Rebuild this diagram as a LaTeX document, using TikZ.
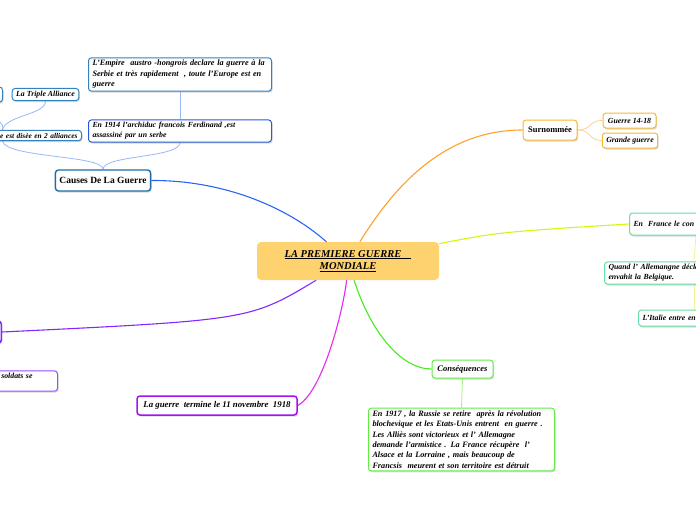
\documentclass[tikz,border=0pt]{standalone}
\usepackage{fontspec}
\setmainfont{Liberation Serif}
\usepackage{xcolor}
\usetikzlibrary{shadows,backgrounds}
\definecolor{titlefill}{RGB}{255,210,112}
\definecolor{causeblue}{RGB}{30,110,165}
\definecolor{kidblue}{RGB}{50,130,190}
\definecolor{deepblue}{RGB}{40,90,220}
\definecolor{paleblue}{RGB}{150,185,245}
\definecolor{branchblue}{RGB}{40,100,250}
\definecolor{orangeline}{RGB}{255,160,40}
\definecolor{orangebox}{RGB}{245,185,50}
\definecolor{paleorange}{RGB}{252,210,140}
\definecolor{limeline}{RGB}{215,245,20}
\definecolor{mintbox}{RGB}{100,225,165}
\definecolor{paleyellow}{RGB}{245,240,150}
\definecolor{greenline}{RGB}{70,235,30}
\definecolor{greenbox}{RGB}{100,235,70}
\definecolor{palegreen}{RGB}{165,240,130}
\definecolor{purpleline}{RGB}{130,40,255}
\definecolor{purplebox}{RGB}{150,80,255}
\definecolor{magentaline}{RGB}{230,40,245}
\definecolor{violetbox}{RGB}{165,20,240}

\begin{document}
\begin{tikzpicture}[x=1pt,y=-1pt,
box/.style={draw,rounded corners=3pt,line width=1pt,fill=white,inner xsep=4pt,inner ysep=2.5pt,
  align=left,font=\fontsize{7.8}{10}\selectfont\bfseries\itshape,
  drop shadow={shadow xshift=1pt,shadow yshift=-1.5pt,opacity=.3}},
branch/.style={line width=1.1pt},
twig/.style={line width=.8pt}]
\useasboundingbox (0,0) rectangle (696,520);

% centre
\node[fill=titlefill,rounded corners=4pt,minimum width=182pt,minimum height=38pt,align=center,
  font=\fontsize{10.5}{12.5}\selectfont\bfseries\itshape] (guerre) at (348,261)
  {\underline{LA PREMIERE GUERRE\hspace{10pt}}\\\underline{MONDIALE}};

% causes
\node[box,draw=causeblue,line width=1.4pt,minimum width=94pt,minimum height=21pt,align=center,
  font=\fontsize{9.5}{11}\selectfont\bfseries] (causes) at (103,180.5) {Causes De La Guerre};
\node[box,draw=deepblue,text width=175pt] (assassin) at (180,131)
  {En 1914 l'archiduc francois Ferdinand ,est\\assassiné par un serbe};
\node[box,draw=kidblue,text width=175pt,font=\fontsize{8.2}{10.5}\selectfont\bfseries\itshape] (empire) at (180,74.5)
  {L'Empire\ \ austro -hongrois declare la guerre à la\\Serbie et très rapidement\ \ , toute l'Europe est en\\guerre};
\node[box,draw=kidblue,text width=150pt,align=right,anchor=east,
  font=\fontsize{7.4}{10}\selectfont\bfseries\itshape] (alliances) at (82,135.5)
  {e est disèe en 2 alliances};
\node[box,draw=kidblue] (triple) at (45.5,94.5) {La Triple Alliance};
\node[box,draw=kidblue,minimum width=60pt,minimum height=15pt,anchor=east] (entente) at (3,94.5) {};

% surnommee
\node[box,draw=orangebox,minimum width=54pt,minimum height=20pt,align=center,
  font=\fontsize{8.5}{10}\selectfont\bfseries] (surnom) at (550,130) {Surnommée};
\node[box,draw=orangebox,minimum width=53pt,minimum height=15pt,align=center] (quatorze) at (629.5,120.5) {Guerre 14-18};
\node[box,draw=orangebox,minimum width=54pt,minimum height=15pt,align=center] (grande) at (630,140.5) {Grande guerre};

% en france
\node[box,draw=mintbox,text width=125pt,minimum height=22pt,anchor=west] (france) at (629,224) {En\ \ France le con};
\node[box,draw=mintbox,text width=171pt,anchor=west] (belgique) at (604,273)
  {Quand l' Allemangne déclar\\envahit la Belgique.};
\node[box,draw=mintbox,text width=103pt,minimum height=16pt,anchor=west] (italie) at (638,318) {L'Italie entre en};

% consequences
\node[box,draw=greenbox,minimum width=61pt,minimum height=18pt,align=center,
  font=\fontsize{8.5}{10}\selectfont\bfseries\itshape] (conseq) at (462.5,369) {Conséquences};
\node[box,draw=greenbox,text width=178pt,font=\fontsize{8.2}{10.4}\selectfont\bfseries\itshape] (bilan) at (461.5,439.5)
  {En 1917 , la Russie se retire\ \ après la révolution\\blochevique et les Etats-Unis entrent\ \ en guerre .\\Les Alliès sont victorieux et l' Allemagne\\demande l'armistice . La France récupère\ \ l'\\Alsace et la Lorraine , mais beaucoup de\\Francsis\ \ meurent et son territoire est détruit};

% fin
\node[box,draw=violetbox,line width=1.5pt,minimum width=160pt,minimum height=19pt,align=center,
  font=\fontsize{8.8}{10}\selectfont\bfseries\itshape] (armistice) at (217,405.5)
  {La guerre\ \ termine le 11 novembre\ \ 1918};

% gauche
\node[box,draw=purpleline,line width=1.5pt,minimum width=60pt,minimum height=22pt,anchor=east] (front) at (2,332) {};
\node[box,draw=purplebox,text width=108pt,align=right,anchor=east] (soldats) at (58,381)
  {soldats se\hspace*{21pt}\mbox{}\\\mbox{}};

\begin{scope}[on background layer]
\draw[branch,branchblue] (causes.east) .. controls (220,180) and (285,205) .. (guerre);
\draw[branch,orangeline] (guerre) .. controls (395,185) and (445,130) .. (surnom.west);
\draw[branch,limeline] (guerre) .. controls (500,232) .. (france.west);
\draw[branch,purpleline] (guerre) .. controls (250,320) .. (front.east);
\draw[branch,magentaline] (guerre) .. controls (345,300) and (325,390) .. (armistice.east);
\draw[branch,greenline] (guerre) .. controls (370,330) and (400,369) .. (conseq.west);

\draw[twig,paleblue] (causes.north) .. controls (103,155) and (180,158) .. (assassin.south);
\draw[twig,paleblue] (causes.north) .. controls (103,155) and (6,158) .. (alliances.south);
\draw[twig,paleblue] (alliances.north) .. controls (6,115) and (45.5,115) .. (triple.south);
\draw[twig,paleblue] (alliances.north) .. controls (6,115) and (-27,115) .. (entente.south);
\draw[twig,paleblue] (assassin.north) -- (empire.south);
\draw[twig,paleorange] (surnom.east) .. controls (592,130) and (588,120.5) .. (quatorze.west);
\draw[twig,paleorange] (surnom.east) .. controls (592,130) and (588,140.5) .. (grande.west);
\draw[twig,paleyellow] (france.south) -- (belgique.north);
\draw[twig,paleyellow] (belgique.south) -- (italie.north);
\draw[twig,palegreen] (conseq.south) -- (bilan.north);
\end{scope}
\end{tikzpicture}
\end{document}
